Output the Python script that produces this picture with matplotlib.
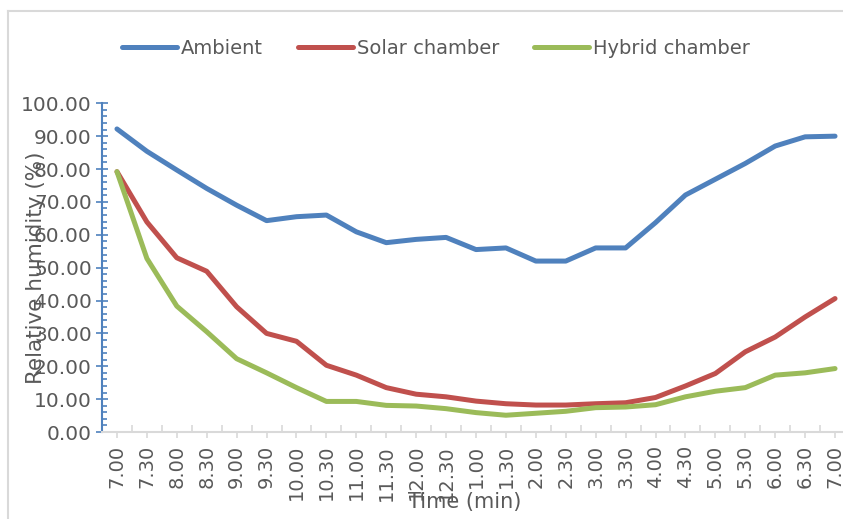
import matplotlib
matplotlib.use('Agg')

import matplotlib.pyplot as plt
from matplotlib.lines import Line2D
from matplotlib.ticker import MultipleLocator, FormatStrFormatter

# time of day, half-hour steps from 7.00 in the morning to 7.00 in the evening
times = ["7.00", "7.30", "8.00", "8.30", "9.00", "9.30", "10.00", "10.30",
         "11.00", "11.30", "12.00", "12.30", "1.00", "1.30", "2.00", "2.30",
         "3.00", "3.30", "4.00", "4.30", "5.00", "5.30", "6.00", "6.30", "7.00"]

ambient = [92.2, 85.4, 79.7, 74.1, 69.0, 64.3, 65.5, 66.0, 60.9, 57.6, 58.6,
           59.2, 55.5, 56.0, 52.0, 52.0, 56.0, 56.0, 63.7, 72.1, 76.9, 81.7,
           87.0, 89.8, 90.0]
solar = [79.2, 63.9, 53.0, 48.9, 38.1, 30.0, 27.6, 20.3, 17.3, 13.5, 11.5,
         10.7, 9.4, 8.6, 8.2, 8.2, 8.6, 8.9, 10.5, 14.0, 17.8, 24.4, 28.9,
         35.0, 40.6]
hybrid = [79.2, 52.8, 38.3, 30.5, 22.3, 18.0, 13.5, 9.3, 9.3, 8.1, 7.9, 7.1,
          5.9, 5.1, 5.7, 6.3, 7.4, 7.6, 8.3, 10.7, 12.4, 13.5, 17.3, 18.0, 19.3]

BLUE = "#4F81BD"
RED = "#C0504D"
GREEN = "#9BBB59"
TEXT = "#595959"
GRID = "#D9D9D9"

W, H = 843, 519
fig = plt.figure(figsize=(W / 100, H / 100), dpi=100)

# outer chart border (only the top-left corner shows)
fig.add_artist(Line2D([8 / W, 8 / W], [0, 1 - 11 / H], color=GRID, lw=1.5,
                      transform=fig.transFigure))
fig.add_artist(Line2D([8 / W, 1], [1 - 11 / H, 1 - 11 / H], color=GRID, lw=1.5,
                      transform=fig.transFigure))

ax = fig.add_axes([102 / W, 1 - 432 / H, (850 - 102) / W, (432 - 103.3) / H])

x = range(len(times))
for series, color, name in [(ambient, BLUE, "Ambient"),
                            (solar, RED, "Solar chamber"),
                            (hybrid, GREEN, "Hybrid chamber")]:
    ax.plot(x, series, color=color, lw=3.6, label=name,
            solid_capstyle="round", solid_joinstyle="round", clip_on=False)

ax.set_xlim(-0.5, len(times) - 0.5)
ax.set_ylim(0, 100)

ax.spines["top"].set_visible(False)
ax.spines["right"].set_visible(False)
ax.spines["left"].set_color(BLUE)
ax.spines["left"].set_linewidth(1.5)
ax.spines["bottom"].set_color(GRID)
ax.spines["bottom"].set_linewidth(1.5)

ax.yaxis.set_major_locator(MultipleLocator(10))
ax.yaxis.set_minor_locator(MultipleLocator(2))
ax.yaxis.set_major_formatter(FormatStrFormatter("%.2f"))
ax.tick_params(axis="y", which="major", direction="inout", length=8.6,
               width=1.2, color=BLUE, labelsize=14.5, labelcolor=TEXT, pad=3)
ax.tick_params(axis="y", which="minor", direction="in", length=3.6,
               width=1.2, color=BLUE)

ax.set_xticks(list(x))
ax.set_xticklabels(times, rotation=90)
ax.set_xticks([i + 0.5 for i in x][:-1], minor=True)
ax.tick_params(axis="x", which="major", direction="out", length=4.3,
               width=1.2, color=GRID, labelsize=14, labelcolor=TEXT, pad=5)
ax.tick_params(axis="x", which="minor", direction="in", length=5,
               width=1.2, color=GRID)

ax.set_ylabel("Relative humidity (%)", fontsize=15.5, color=TEXT)
ax.yaxis.set_label_coords(-0.088, 0.5)
ax.yaxis.label.set_va("center")
ax.set_xlabel("Time (min)", fontsize=15, color=TEXT)
ax.xaxis.set_label_coords(0.485, -0.212)
ax.xaxis.label.set_va("center")

fig.legend(loc="center", bbox_to_anchor=(436 / W, 1 - 48 / H), ncol=3,
           frameon=False, fontsize=14, labelcolor=TEXT, handlelength=2.83,
           handletextpad=0.2, columnspacing=1.8, borderaxespad=0)

fig.savefig("out.png", dpi=100)
plt.close(fig)
